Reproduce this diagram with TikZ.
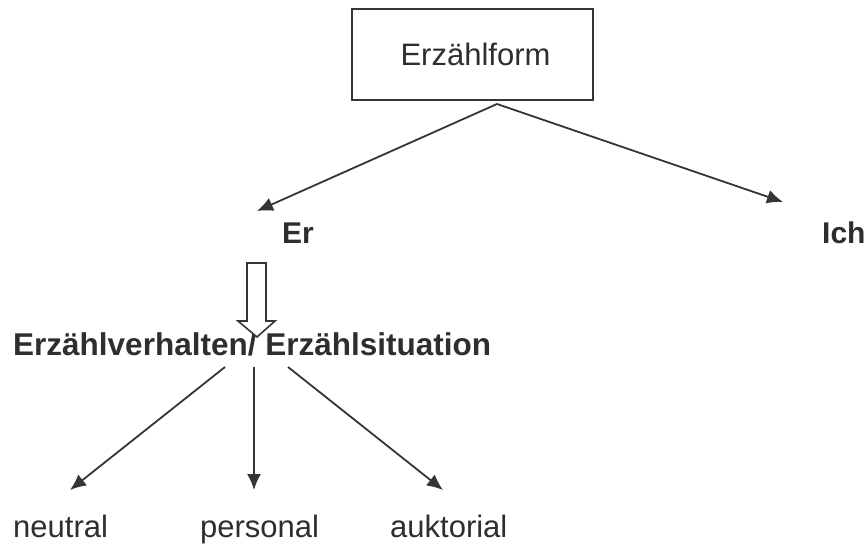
\documentclass[tikz,border=0pt]{standalone}
\usepackage{fontspec}
\setmainfont{Liberation Sans}
\usetikzlibrary{arrows.meta}
\definecolor{ink}{HTML}{2E2E2E}
\definecolor{lin}{HTML}{353535}
\begin{document}
\begin{tikzpicture}[x=1pt,y=-1pt,
  txt/.style={inner sep=0pt, text=ink, font=\fontsize{31}{37}\selectfont},
  btxt/.style={inner sep=0pt, text=ink, font=\fontsize{30}{36}\selectfont\bfseries},
  bigtxt/.style={inner sep=0pt, text=ink, font=\fontsize{31.5}{38}\selectfont\bfseries},
  conn/.style={draw=lin, line width=1.8pt, -{Latex[length=16pt,width=14pt]}},
  frame/.style={draw=lin, line width=2pt, minimum width=241pt, minimum height=91pt, inner sep=0pt, text=ink, font=\fontsize{31}{37}\selectfont}
]
\useasboundingbox (0,0) rectangle (867,544);
\fill[white] (0,0) rectangle (867,544);

\node[frame] (box) at (472.5,54.5) {\hspace*{6pt}Erzählform};
\node[btxt, anchor=base west] (er) at (282,243) {Er};
\node[btxt, anchor=base west] (ich) at (822,243) {Ich};
\node[bigtxt, anchor=base west] (ev) at (13,355) {Erzählverhalten/ Erzählsituation};
\node[txt, anchor=base west] (neu) at (13,537) {neutral};
\node[txt, anchor=base west] (per) at (200,537) {personal};
\node[txt, anchor=base west] (auk) at (390,537) {auktorial};

\coordinate (apex) at (497,104);
\coordinate (erTip) at (257,211);
\coordinate (ichTip) at (783,202);
\draw[conn] (apex) -- (erTip);
\draw[conn] (apex) -- (ichTip);

% hollow arrow
\draw[draw=lin, line width=1.6pt, fill=white, line join=miter]
  (247,263) -- (266,263) -- (266,321) -- (275,321) -- (257,337) -- (238,321) -- (247,321) -- cycle;

\coordinate (s1) at (225,367);
\coordinate (s2) at (254,367);
\coordinate (s3) at (288,367);
\coordinate (t1) at (70,490);
\coordinate (t2) at (254,490);
\coordinate (t3) at (443,490);
\draw[conn] (s1) -- (t1);
\draw[conn] (s2) -- (t2);
\draw[conn] (s3) -- (t3);
\end{tikzpicture}
\end{document}
